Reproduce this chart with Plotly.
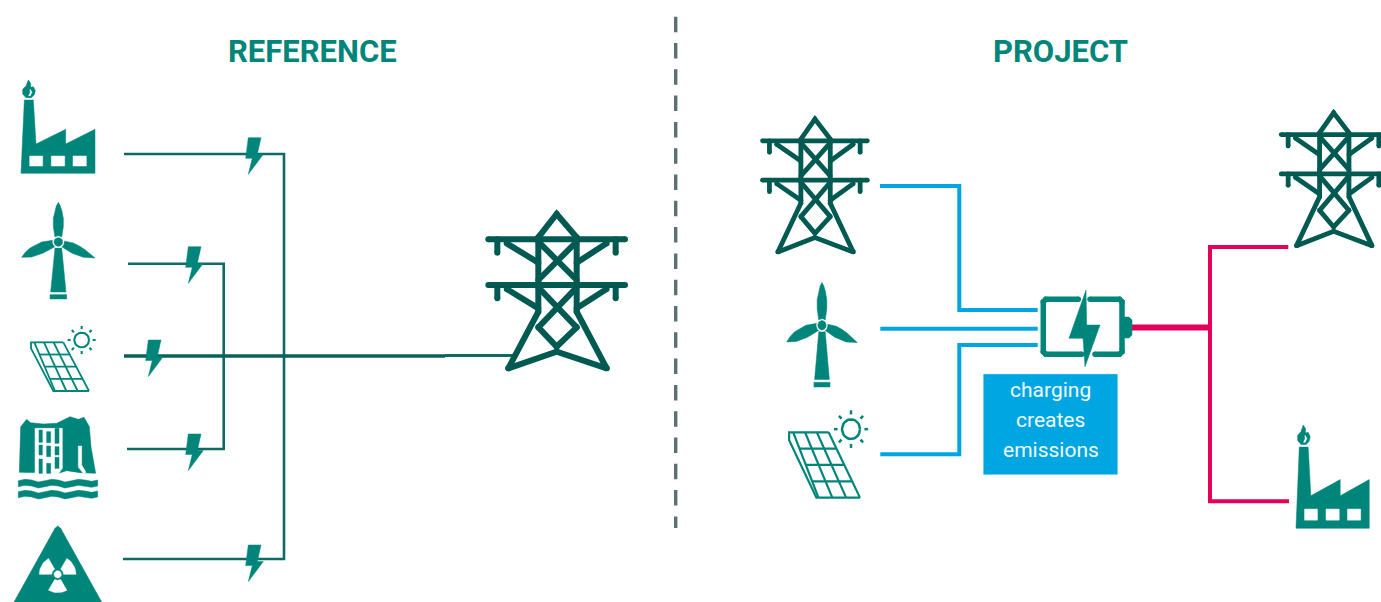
import numpy as np
import plotly.graph_objects as go

TEAL = "#00857a"; DARK = "#005a52"; WIRE = "#0e6b63"; MAIN = "#0b5f58"
BLUE = "#00a6e2"; PINK = "#e3005b"; GRAY = "#5e6f73"

titles = ["REFERENCE", "PROJECT"]
title_x = [312, 1060]
box_lines = ["charging", "creates", "emissions"]
box_line_y = [390, 420, 450]

# connector routes
ref_wires = [
    ([124, 284, 284, 123], [154, 154, 559, 559]),
    ([128, 223.7, 223.7, 127], [263.7, 263.7, 449, 449]),
]
ref_main_x = [124, 445]; ref_main_y = [356, 356]
ref_main2_x = [445, 516]; ref_main2_y = [355.5, 355.5]
blue_wires = [
    ([880, 959.3, 959.3, 1037.7], [186, 186, 310, 310]),
    ([880.3, 1037.7], [328.7, 328.7]),
    ([880.3, 959.3, 959.3, 1037.7], [454.3, 454.3, 345, 345]),
]
pink_stem_x = [1131, 1210]; pink_stem_y = [327.5, 327.5]
pink_x = [1288.3, 1210, 1210, 1289]; pink_y = [247, 247, 501.3, 501.3]
divider_x = [675.7, 675.7]; divider_y = [16.7, 528]

# icon outlines, in their own local units
factory_body = [(63,310),(285,310),(285,178),(197,222),(197,178),(108,222),(100,90),(73,90)]
factory_flame = [(85,30),(92,40),(92,52),(100,50),(106,62),(103,74),(94,83),(78,83),(68,72),(68,58),(78,48)]
factory_notch = [(90,58),(96,66),(91,77),(86,77),(91,67)]
factory_windows = [[(89,258),(128,258),(128,288),(89,288)],
                   [(154,258),(194,258),(194,288),(154,288)],
                   [(219,258),(259,258),(259,288),(219,288)]]
blade_top = [(175,397),(181,408),(186,424),(190,445),(190,470),(185,502),(165,502),(160,470),(160,445),(164,424),(169,408)]
blade_left = [(65,562),(76,547),(90,534),(108,524),(125,516),(163,510),(167,529),(130,549),(112,556),(95,561)]
blade_right = [(285,564),(272,552),(255,539),(238,528),(220,519),(187,512),(183,529),(215,549),(232,556),(250,562)]
turbine_tower = [(165,534),(185,534),(198,666),(152,666)]
turbine_base = [(150,674),(200,674),(200,687),(150,687)]
hydro_body = [(58,457),(62,320),(80,298),(92,308),(130,312),(170,310),(210,290),(235,298),(252,292),(268,320),(273,380),(287,460),(240,458),(200,452),(176,460)]
hydro_fall = [(105,325),(187,325),(187,445),(175,462),(105,462)]
hydro_slit = [(235,378),(245,378),(245,435),(258,457),(250,460),(235,442)]
hydro_dashes = [(117,127,330,367),(117,127,375,405),(117,127,417,460),
                (140,152,335,368),(140,152,378,410),(140,152,430,460),
                (165,177,325,370),(165,177,380,405),(165,177,412,445)]
wave_x = [55,75,95,115,135,155,175,195,215,235,255,275,293]
wave_y = [482,478,480,486,482,478,480,486,482,478,480,484,480]
nuke_tri = [(42,846),(165,625),(173,618),(182,625),(305,846)]
bolt_small = [(248.3,137.7),(261,137.7),(257.3,154.3),(263.3,154.3),(248.3,174.3),(252.3,158.3),(245.7,158.3)]
bolt_offsets = [(0,0),(-60,109),(-100,202.3),(-60,296.3),(0,407.3)]
tower_segments = [
    [(115,505),(260,455),(410,505)],
    [(115,505),(205,335),(205,112),(260,42),(320,112),(320,335),(410,505)],
    [(55,118),(465,118)], [(55,255),(465,255)],
    [(82,118),(82,158)], [(437,118),(437,158)], [(82,255),(82,295)], [(437,255),(437,295)],
    [(110,130),(205,188)], [(410,130),(320,188)], [(110,267),(205,325)], [(410,267),(320,325)],
    [(205,125),(320,240)], [(320,125),(205,240)],
    [(205,262),(320,382)], [(320,262),(205,382)],
    [(205,382),(260,440),(320,382)],
]
battery_left = [(1078.3,299.3),(1045.8,299.3),(1043.3,301.8),(1043.3,351.8),(1045.8,354.3),(1081.7,354.3)]
battery_right = [(1090,299.3),(1119.5,299.3),(1122,301.8),(1122,351.8),(1119.5,354.3),(1095,354.3)]
battery_term = [(1124,317),(1129,317),(1132,320),(1132,335),(1129,338),(1124,338)]
battery_bolt = [(1086,290),(1069,338.3),(1083,338.3),(1085,366.7),(1100,325),(1086.7,325)]
box_x = [983.7, 1117.3, 1117.3, 983.7]; box_y = [374.3, 374.3, 474.3, 474.3]

fig = go.Figure()

def place(pts, t):
    tx, ty, sx, sy = t
    return [tx + sx * p[0] for p in pts], [ty + sy * p[1] for p in pts]

def fill(xs, ys, color):
    fig.add_trace(go.Scatter(x=list(xs) + [xs[0]], y=list(ys) + [ys[0]], mode="lines", fill="toself",
                             fillcolor=color, line=dict(color=color, width=0.5), hoverinfo="skip"))

def stroke(xs, ys, color, width, dash=None, caps=False):
    fig.add_trace(go.Scatter(x=xs, y=ys, mode="lines+markers" if caps else "lines",
                             line=dict(color=color, width=width, dash=dash),
                             marker=dict(color=color, size=width), hoverinfo="skip"))

def arc(cx, cy, r0, r1, a0, a1, n=14):
    a = np.radians(np.linspace(a0, a1, n))
    pts = [(cx + r1 * np.cos(v), cy - r1 * np.sin(v)) for v in a]
    if r0 > 0:
        pts += [(cx + r0 * np.cos(v), cy - r0 * np.sin(v)) for v in a[::-1]]
    return pts

def factory(t):
    fill(*place(factory_body, t), TEAL)
    fill(*place(factory_flame, t), TEAL)
    fill(*place(factory_notch, t), "white")
    for w in factory_windows:
        fill(*place(w, t), "white")

def turbine(t):
    for shp in (blade_top, blade_left, blade_right, turbine_tower, turbine_base):
        fill(*place(shp, t), TEAL)
    fill(*place(arc(175, 516, 0, 17, 0, 360, 24), t), "white")
    fill(*place(arc(175, 516, 0, 13, 0, 360, 24), t), TEAL)

def solar(t, w):
    rows = [0, 0.25, 0.5, 0.75, 1.0]
    cols = [0, 1/3, 2/3, 1.0]
    L = lambda v: (103 + 62 * v, 67 + 146 * v)
    R = lambda v: (190 + 77 * v, 67 + 146 * v)
    for r in rows:
        a, b = L(r), R(r)
        xs, ys = place([a, b], t); stroke(xs, ys, TEAL, w)
    for c in cols:
        a = (103 + 87 * c, 67); b = (165 + 102 * c, 213)
        xs, ys = place([a, b], t); stroke(xs, ys, TEAL, w)
    xs, ys = place([(103,67),(93,67),(93,85),(160,213),(165,213)], t); stroke(xs, ys, TEAL, w)
    xs, ys = place(arc(245, 60, 0, 22, 0, 360, 30), t); stroke(xs + [xs[0]], ys + [ys[0]], TEAL, w + 0.3)
    for ang in range(0, 360, 45):
        c, s = np.cos(np.radians(ang)), np.sin(np.radians(ang))
        xs, ys = place([(245 + 33 * c, 60 - 33 * s), (245 + 42 * c, 60 - 42 * s)], t)
        stroke(xs, ys, TEAL, w + 0.3)

def hydro(t):
    fill(*place(hydro_body, t), TEAL)
    fill(*place(hydro_fall, t), "white")
    fill(*place(hydro_slit, t), "white")
    for x0, x1, y0, y1 in hydro_dashes:
        fill(*place([(x0,y0),(x1,y0),(x1,y1),(x0,y1)], t), TEAL)
    for shift in (0, 33):
        top = [(x, y + shift) for x, y in zip(wave_x, wave_y)]
        bot = [(x, y + shift + 18) for x, y in zip(wave_x[::-1], wave_y[::-1])]
        fill(*place(top + bot, t), TEAL)

def nuclear(t):
    fill(*place(nuke_tri, t), TEAL)
    for a0, a1 in ((120, 180), (0, 60), (240, 300)):
        fill(*place(arc(173, 763, 18, 55, a0, a1), t), "white")
    fill(*place(arc(173, 763, 0, 11, 0, 360, 20), t), "white")

def tower(t, w):
    for seg in tower_segments:
        xs, ys = place(seg, t)
        stroke(xs, ys, DARK, w, caps=True)

# divider
stroke(divider_x, divider_y, GRAY, 3.4, dash="15.5px,10.8px")

# reference side
for xs, ys in ref_wires:
    stroke(xs, ys, WIRE, 2.6)
factory((0, 70, 1/3, 1/3))
turbine((0, 70, 1/3, 1/3))
solar((0, 320, 1/3, 1/3), 1.8)
hydro((0, 320, 1/3, 1/3))
nuclear((0, 320, 1/3, 1/3))
stroke(ref_main_x, ref_main_y, MAIN, 3.6)
stroke(ref_main2_x, ref_main2_y, WIRE, 2.8)
tower((470, 200, 1/3, 1/3), 6)
for dx, dy in bolt_offsets:
    fill([p[0] + dx for p in bolt_small], [p[1] + dy for p in bolt_small], TEAL)

# project side
tower((748.5, 107, 0.2555, 0.2870), 4.8)
tower((1267.2, 100.7, 0.2555, 0.2870), 4.8)
turbine((765.8, 139, 0.321, 0.361))
solar((751.3, 402.3, 0.407, 0.4475), 2.2)
factory((1275.2, 413.9, 0.33, 0.369))
for xs, ys in blue_wires:
    stroke(xs, ys, BLUE, 4)
stroke(pink_x, pink_y, PINK, 4)
stroke(pink_stem_x, pink_stem_y, PINK, 6)
stroke([p[0] for p in battery_left], [p[1] for p in battery_left], TEAL, 5.5, caps=True)
stroke([p[0] for p in battery_right], [p[1] for p in battery_right], TEAL, 5.5, caps=True)
fill([p[0] for p in battery_term], [p[1] for p in battery_term], TEAL)
fill([p[0] for p in battery_bolt], [p[1] for p in battery_bolt], TEAL)
fill(box_x, box_y, BLUE)

annotations = [dict(x=x, y=51, text=f"<b>{s}</b>", showarrow=False,
                    font=dict(family="Roboto", size=31, color=TEAL))
               for s, x in zip(titles, title_x)]
annotations += [dict(x=1050.5, y=y, text=s, showarrow=False,
                     font=dict(family="Roboto", size=21, color="#f0fafe"))
                for s, y in zip(box_lines, box_line_y)]

fig.update_layout(
    width=1381, height=602, margin=dict(l=0, r=0, t=0, b=0),
    paper_bgcolor="white", plot_bgcolor="white", showlegend=False,
    xaxis=dict(range=[0, 1381], visible=False, fixedrange=True),
    yaxis=dict(range=[602, 0], visible=False, fixedrange=True),
    annotations=annotations,
)
fig.write_html("out.html", config=dict(displayModeBar=False),
               post_script="document.body.style.margin='0';document.body.style.overflow='hidden';")
